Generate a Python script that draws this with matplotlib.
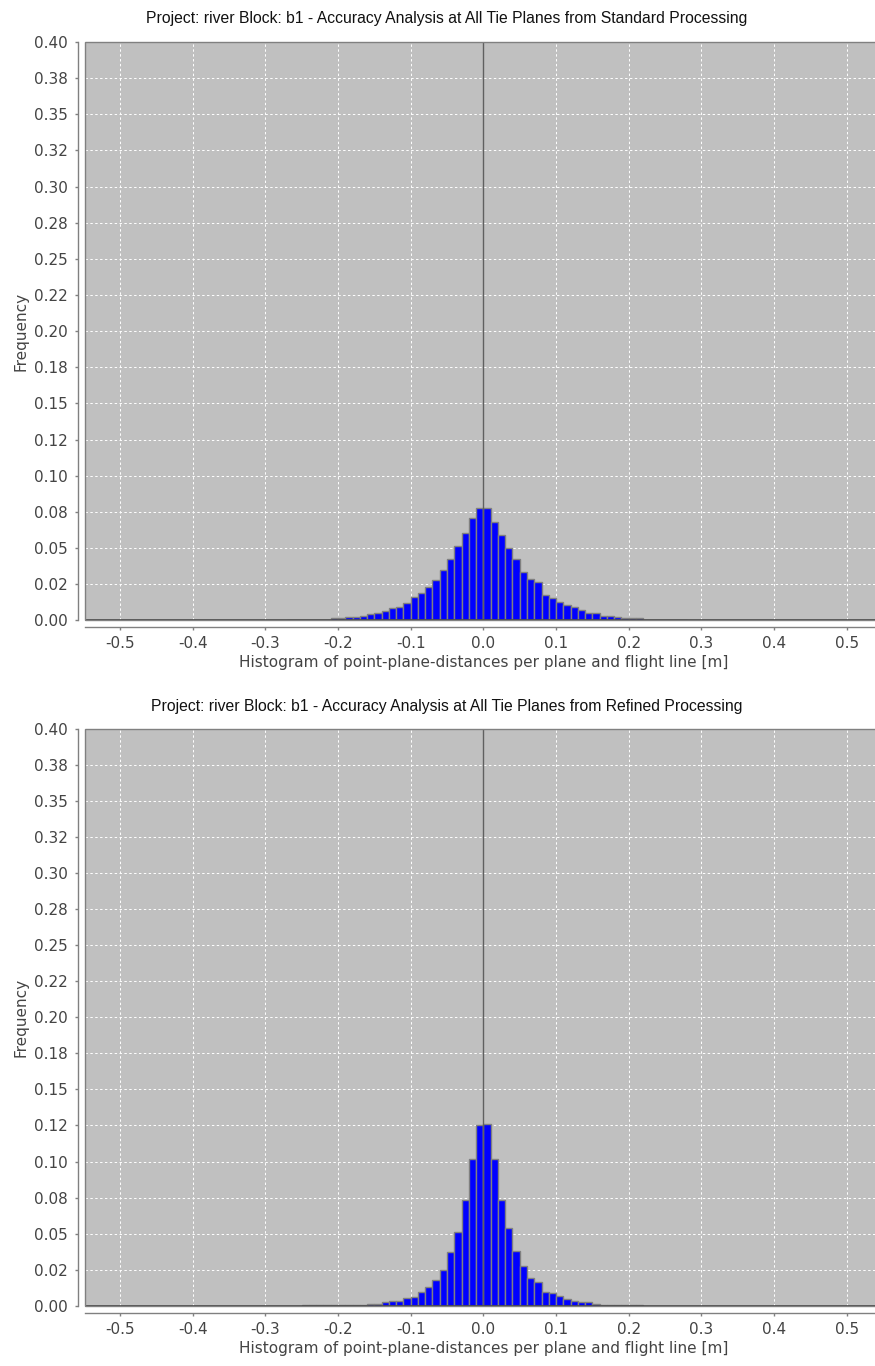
import numpy as np
import matplotlib
matplotlib.use("Agg")
import matplotlib.pyplot as plt
from matplotlib.patches import Rectangle

# ---------------- data ----------------
titles = [
    "Project: river Block: b1 - Accuracy Analysis at All Tie Planes from Standard Processing",
    "Project: river Block: b1 - Accuracy Analysis at All Tie Planes from Refined Processing",
]
x_label = "Histogram of point-plane-distances per plane and flight line [m]"
y_label = "Frequency"
bin_width = 0.01

# Standard processing: bins from -0.27 to 0.28
std_first_edge = -0.27
std_freq = [
    0.0004, 0.0004, 0.0004, 0.0004, 0.0004, 0.0004,
    0.0014, 0.0014, 0.0023, 0.0023, 0.0032, 0.0042, 0.0051, 0.0065, 0.0083, 0.0092,
    0.0120, 0.0161, 0.0189, 0.0228, 0.0279, 0.0348, 0.0424, 0.0514, 0.0602, 0.0711,
    0.0775,
    0.0775, 0.0680, 0.0593, 0.0503, 0.0424, 0.0337, 0.0286, 0.0268, 0.0175, 0.0157,
    0.0129, 0.0108, 0.0090, 0.0072, 0.0048, 0.0048, 0.0030, 0.0030, 0.0021, 0.0014,
    0.0014, 0.0014,
    0.0004, 0.0004, 0.0004, 0.0004, 0.0004, 0.0004,
]

# Refined processing: bins from -0.25 to 0.22
ref_first_edge = -0.25
ref_freq = [
    0.0004, 0.0004, 0.0004, 0.0004, 0.0004, 0.0004, 0.0004, 0.0004, 0.0004,
    0.0014, 0.0014, 0.0025, 0.0035, 0.0035, 0.0053, 0.0062, 0.0092, 0.0129, 0.0180,
    0.0250, 0.0370, 0.0508, 0.0735, 0.1019, 0.1255,
    0.1262, 0.1017, 0.0735, 0.0538, 0.0381, 0.0273, 0.0192, 0.0164, 0.0095, 0.0086,
    0.0065, 0.0046, 0.0035, 0.0025, 0.0025, 0.0014,
    0.0004, 0.0004, 0.0004, 0.0004, 0.0004, 0.0004,
]

x_ticks = [-0.5, -0.4, -0.3, -0.2, -0.1, 0.0, 0.1, 0.2, 0.3, 0.4, 0.5]
x_tick_labels = ["-0.5", "-0.4", "-0.3", "-0.2", "-0.1", "0.0", "0.1", "0.2", "0.3", "0.4", "0.5"]
y_ticks = [0.0, 0.025, 0.05, 0.075, 0.1, 0.125, 0.15, 0.175, 0.2, 0.225, 0.25,
           0.275, 0.3, 0.325, 0.35, 0.375, 0.4]
y_tick_labels = ["0.00", "0.02", "0.05", "0.08", "0.10", "0.12", "0.15", "0.18", "0.20",
                 "0.22", "0.25", "0.28", "0.30", "0.32", "0.35", "0.38", "0.40"]

# ---------------- figure ----------------
W, H = 875, 1366
plt.rcParams['font.family'] = ['DejaVu Sans']
fig = plt.figure(figsize=(W / 100, H / 100), dpi=100)

axis_gray = "#808080"
label_gray = "#444444"

def px_ax(left, top, right, bottom):
    return [left / W, 1 - bottom / H, (right - left) / W, (bottom - top) / H]

panels = [
    (titles[0], std_first_edge, std_freq, (85, 42, 881.7, 620.3), 18),
    (titles[1], ref_first_edge, ref_freq, (85, 729, 881.7, 1305.7), 706),
]

for title, first_edge, freq, box, title_y in panels:
    ax = fig.add_axes(px_ax(*box))
    ax.set_facecolor("#C0C0C0")
    edges = first_edge + bin_width * np.arange(len(freq))
    ax.bar(edges, freq, width=bin_width, align="edge", color="#0000FF",
           edgecolor=axis_gray, linewidth=1.0, zorder=3)
    ax.set_xlim(-0.548, 0.548)
    ax.set_ylim(0, 0.4)
    ax.set_xticks(x_ticks)
    ax.set_xticklabels(x_tick_labels)
    ax.set_yticks(y_ticks)
    ax.set_yticklabels(y_tick_labels)
    ax.grid(True, color="white", linestyle=(0, (2.5, 2.5)), linewidth=0.7, zorder=1)
    ax.set_axisbelow(True)
    ax.axvline(0, color="#606060", linewidth=1.0, zorder=4)
    ax.axhline(0, color="#404040", linewidth=1.2, zorder=4)

    for s in ("top", "right"):
        ax.spines[s].set_visible(False)
    for s in ("left", "bottom"):
        ax.spines[s].set_position(("outward", 5))
        ax.spines[s].set_color(axis_gray)
        ax.spines[s].set_linewidth(1.0)
    ax.add_patch(Rectangle((0, 0), 1, 1, transform=ax.transAxes, fill=False,
                           edgecolor=axis_gray, linewidth=1.0, clip_on=False, zorder=5))

    ax.tick_params(axis="both", direction="out", length=2.5, width=1.0,
                   color=axis_gray, labelcolor=label_gray, labelsize=11)
    ax.tick_params(axis="y", pad=5)
    ax.tick_params(axis="x", pad=4)
    ax.set_xlabel(x_label, fontsize=11, color=label_gray, labelpad=3)
    ax.set_ylabel(y_label, fontsize=11, color=label_gray, labelpad=4)

    fig.text(447 / W, 1 - title_y / H, title, ha="center", va="center",
             fontsize=11.3, color="#111111", family=["Liberation Sans", "DejaVu Sans"])

fig.savefig("out.png", dpi=100, facecolor="white")
